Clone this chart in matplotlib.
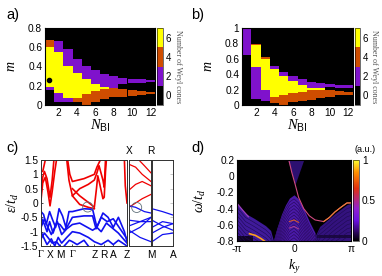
import numpy as np
import matplotlib
matplotlib.use('Agg')
import matplotlib.pyplot as plt
from matplotlib.colors import ListedColormap, BoundaryNorm, LinearSegmentedColormap, Normalize
from matplotlib.cm import ScalarMappable
from matplotlib.patches import Ellipse

plt.rcParams['font.family'] = ['Liberation Sans', 'DejaVu Sans']
plt.rcParams['axes.unicode_minus'] = False
plt.rcParams['mathtext.fontset'] = 'custom'
plt.rcParams['mathtext.it'] = 'Liberation Serif:italic'
plt.rcParams['mathtext.rm'] = 'Liberation Serif'
plt.rcParams['mathtext.sf'] = 'Liberation Sans'
plt.rcParams['mathtext.fallback'] = 'stix'

W, H = 382, 276
N_BI = np.arange(1, 13)
LAYER_COLORS = ['#000000', '#7f12cc', '#cf4d00', '#000000', '#ffff00', '#cf4d00', '#7f12cc']
CB_COLORS = ['#000000', '#7f12cc', '#cf4d00', '#ffff00']

# Panel a: top of each layer per column
a_black = [.155, .035, .035, .035, 0, .035, .06, .08, .085, .095, .105, .115]
a_purple = [.19, .12, .07, .035, 0, .035, .06, .08, .085, .095, .105, .115]
a_orange = [.19, .12, .07, .075, .115, .145, .165, .175, .17, .16, .15, .14]
a_gap = [.19, .12, .07, .075, .115, .145, .165, .175, .22, .225, .23, .235]
a_yellow = [.60, .55, .41, .33, .265, .215, .19, .18, .22, .225, .23, .235]
a_orange2 = [.68, .55, .41, .33, .265, .215, .19, .18, .22, .225, .23, .235]
a_purple2 = [.68, .66, .58, .48, .41, .36, .325, .30, .285, .275, .265, .255]
a_point = (0.93, 0.26)

# Panel b
b_black = [.65, .08, .05, .02, 0, .04, .05, .07, .09, .11, .125, .135]
b_purple = [1.0, .50, .20, .02, 0, .04, .05, .07, .09, .11, .125, .135]
b_orange = [1.0, .50, .20, .10, .13, .15, .17, .19, .20, .20, .185, .17]
b_gap = [1.0, .50, .20, .10, .13, .15, .17, .19, .20, .23, .22, .215]
b_yellow = [1.0, .775, .60, .47, .38, .31, .26, .225, .215, .23, .22, .215]
b_orange2 = [1.0, .79, .62, .47, .38, .31, .26, .225, .215, .23, .22, .215]
b_purple2 = [1.0, .79, .62, .51, .43, .38, .335, .30, .28, .27, .26, .255]

# Panel c: main segment, (k, energy) per band
c_ticks = [0, .108, .223, .365, .62, .735, .84, 1]
c_ticklabels = ['Γ', 'X', 'M', 'Γ', 'Z', 'R', 'A', 'Z']
c_red = [
    [(0, .1), (.02, .7), (.05, .9), (.08, .4), (.105, -.1), (.13, .4), (.16, 1.1), (.18, 1.5)],
    [(0, .3), (.02, .9), (.04, 1.1), (.07, .85), (.105, .2), (.13, .8), (.15, 1.5)],
    [(.02, 1.1), (.05, 1.5)],
    [(.30, 1.5), (.325, .8), (.365, .25), (.45, -.05), (.55, -.15), (.62, -.2)],
    [(.31, 1.5), (.335, 1.0), (.365, .75), (.5, .85), (.62, 1.0), (.65, 1.25), (.69, 1.5)],
    [(.365, .5), (.45, .25), (.56, 0), (.62, -.15), (.645, .5), (.66, .95), (.68, .7), (.72, .15), (.735, .2), (.75, 1.1), (.76, 1.5)],
    [(.365, .25), (.45, .5), (.55, .65), (.62, .8), (.65, 1.05), (.675, 1.3), (.72, .8), (.735, .55), (.75, 1.5)],
    [(.97, 1.5), (.98, .6), (1, 0)],
]
c_blue = [
    [(0, -.3), (.03, -.4), (.06, -.75), (.1, -.3), (.13, -.55), (.17, -.85), (.21, -.2), (.25, -.45), (.29, -.85), (.325, -.3), (.365, -.3), (.5, -.2), (.6, -.22), (.65, -.85), (.72, -.35), (.78, -.5), (.84, -.85), (.9, -.5), (.97, -1.0), (1, -1.35)],
    [(0, -.5), (.04, -.75), (.07, -1.0), (.1, -.65), (.14, -1.05), (.18, -.7), (.22, -.75), (.27, -.95), (.31, -.8), (.365, -.5), (.5, -.45), (.6, -.45), (.64, -.9), (.7, -.5), (.77, -.65), (.84, -.55), (.92, -.9), (1, -1.25)],
    [(0, -.85), (.04, -.55), (.08, -.85), (.12, -1.1), (.16, -.85), (.19, -.65), (.24, -1.1), (.3, -.9), (.365, -.75), (.45, -.7), (.6, -.95), (.65, -.85), (.7, -1.0), (.76, -.7), (.82, -.85), (.9, -1.05), (1, -1.4)],
    [(0, -1.0), (.03, -1.2), (.07, -1.45), (.12, -1.25), (.16, -1.5), (.2, -1.2), (.24, -1.4), (.3, -1.2), (.365, -1.0), (.45, -1.05), (.55, -1.2), (.62, -1.35), (.7, -1.45), (.78, -1.3), (.84, -1.45), (.9, -1.3), (1, -1.5)],
    [(0, -1.25), (.04, -1.05), (.08, -1.2), (.13, -1.4), (.18, -1.35), (.22, -1.5)],
    [(.27, -1.5), (.33, -1.3), (.365, -1.35), (.42, -1.45), (.5, -1.3), (.55, -1.5)],
]
# Panel c: middle and right segments
c2_red = [
    [(.45, 1.5), (.7, 1.3), (1, 1.05)],
    [(0, 1.35), (.3, 1.25), (.6, 1.0), (1, .75)],
    [(0, .45), (.3, .65), (.6, .75), (1, .6)],
    [(0, -.15), (.3, 0), (.6, .15), (1, .3)],
]
c2_blue = [
    [(0, -.1), (.3, -.15), (.7, -.3), (1, -.35)],
    [(0, -.6), (.5, -.65), (1, -.5)],
    [(0, -.8), (.5, -.65), (1, -.65)],
    [(0, -1.05), (.5, -.85), (1, -.5)],
    [(0, -.95), (.5, -1.2), (1, -1.35)],
]
c3_blue = [
    [(0, -.2), (.5, -.3), (1, -.42)],
    [(0, -.6), (.5, -.8), (1, -.95)],
    [(0, -.85), (.5, -.65), (1, -.72)],
    [(0, -1.35), (.5, -1.1), (1, -1.05)],
    [(0, -1.05), (.5, -.85), (1, -.72)],
]

# Panel d: k_y in units of pi, energy omega/t_d
d_left_k = [-1, -.85, -.7, -.5, -.41, -.36]
d_left_w = [-.335, -.46, -.52, -.61, -.67, -.8]
d_dome_k = [-.356, -.3, -.22, -.15, -.08, 0, .08, .17, .27, .37]
d_dome_w = [-.78, -.64, -.47, -.355, -.27, -.23, -.28, -.40, -.56, -.70]
d_fan_k = [.33, .45, .52, .72, .93, 1]
d_fan_w = [-.8, -.62, -.58, -.46, -.35, -.335]
d_band_k = [-.09, -.04, .02, .08, .17, .27, .37, .52, .62, .72, .83, .93, 1]
d_band_w = [.2, .05, -.1, -.26, -.4, -.49, -.54, -.56, -.51, -.44, -.38, -.33, -.33]
d_cone_k = [-.11, .02, .17]
d_cone_w = [.2, -.1, .2]
d_fringe_drop = [.05, .09, .13, .17, .21, .25, .29, .33, .37, .41, .45, .49, .53]
d_fan_drop = [.05, .1, .15, .2, .25, .3, .35, .4]
d_arc_k = [-.08, 0, .08]
d_arc_w = [-.56, -.54, -.57]
d_arc2_w = [-.64, -.62, -.65]
d_hot_k = [-.78, -.68, -.58, -.5]
d_hot_w = [-.71, -.73, -.77, -.81]
d_edge_k = [-1, -.9, -.8]
d_edge_w = [-.335, -.42, -.5]


def axpx(x0, y0, x1, y1):
    return fig.add_axes([x0 / W, 1 - y1 / H, (x1 - x0) / W, (y1 - y0) / H])


def style(ax, size=7.3):
    ax.tick_params(labelsize=size, length=1.5, width=.5, pad=2, direction='in')


def band(ax, pts, color, lw=1.2):
    xs, ys = zip(*pts)
    ax.plot(xs, ys, color=color, lw=lw, solid_joinstyle='round')


def stack_panel(ax, layers, ymax, yticks, yticklabels):
    bottom = np.zeros(12)
    for top, col in zip(layers, LAYER_COLORS):
        top = np.array(top, float)
        ax.bar(N_BI, top - bottom, 1.0, bottom=bottom, color=col, linewidth=0, antialiased=False)
        bottom = top
    ax.set_facecolor('black')
    ax.set_xlim(.5, 12.5)
    ax.set_ylim(0, ymax)
    ax.set_xticks(range(2, 13, 2))
    ax.set_yticks(yticks)
    ax.set_yticklabels(yticklabels)
    style(ax)
    ax.tick_params(length=0)
    ax.set_xlabel(r'$N_{\mathsf{BI}}$', fontsize=10.5, labelpad=0)
    ax.set_ylabel(r'$m$', fontsize=10, labelpad=7)


def cbar(x0, y0, x1, y1):
    cax = axpx(x0, y0, x1, y1)
    norm = BoundaryNorm([-1, 1, 3, 5, 7], 4)
    cb = fig.colorbar(ScalarMappable(norm=norm, cmap=ListedColormap(CB_COLORS)), cax=cax,
                      ticks=[0, 2, 4, 6], spacing='proportional')
    cb.ax.tick_params(labelsize=7, length=0, pad=2)
    cb.outline.set_linewidth(.4)
    cb.minorticks_off()
    fig.text((x1 + 14.5) / W, 1 - (y0 + y1) / 2 / H, 'Number of Weyl cones', rotation=270,
             family=['Liberation Serif'], fontsize=5.8, color='#555555', ha='center', va='center')


fig = plt.figure(figsize=(W / 100, H / 100), dpi=100)

# a
axa = axpx(45, 28, 155, 105)
stack_panel(axa, [a_black, a_purple, a_orange, a_gap, a_yellow, a_orange2, a_purple2], .8,
            [0, .2, .4, .6, .8], ['0', '0.2', '0.4', '0.6', '0.8'])
axa.plot(*a_point, 'o', color='black', ms=3)
cbar(157, 28, 163, 105)

# b
axb = axpx(242, 28, 353, 105)
stack_panel(axb, [b_black, b_purple, b_orange, b_gap, b_yellow, b_orange2, b_purple2], 1,
            [0, .2, .4, .6, .8, 1], ['0', '0.2', '0.4', '0.6', '0.8', '1'])
cbar(355, 28, 360, 105)

# c
axc1 = axpx(41, 160, 127, 246)
axc2 = axpx(129, 160, 151, 246)
axc3 = axpx(152, 160, 173, 246)
for b in c_red:
    band(axc1, b, '#f00000')
for b in c_blue:
    band(axc1, b, '#1010f0')
for b in c2_red:
    band(axc2, b, '#f00000', .9)
for b in c2_blue:
    band(axc2, b, '#1010f0', .9)
for b in c3_blue:
    band(axc3, b, '#1010f0', .9)
for ax in (axc1, axc2, axc3):
    ax.set_ylim(-1.5, 1.5)
    style(ax)
    for s in ax.spines.values():
        s.set_linewidth(.7)
        s.set_color('#303030')
axc1.set_xlim(0, 1)
axc1.set_xticks(c_ticks)
axc1.set_xticklabels(c_ticklabels)
axc1.set_yticks(np.arange(-1.5, 1.6, .5))
axc1.set_yticklabels(['-1.5', '-1', '-0.5', '0', '0.5', '1', '1.5'])
axc1.tick_params(axis='x', pad=3)
axc1.set_ylabel(r'$\epsilon/t_d$', fontsize=10, labelpad=0)
for t in axc1.get_xticklabels()[:1] + axc1.get_xticklabels()[3:4]:
    t.set_fontfamily('Liberation Serif')
axc2.set_xlim(0, 1)
axc2.set_xticks([1])
axc2.set_xticklabels(['M'])
axc2.tick_params(axis='x', pad=3)
axc2.set_yticks([])
axc2.text(0, 1.05, 'X', transform=axc2.transAxes, fontsize=7.3, ha='center', va='bottom')
axc2.text(1, 1.05, 'R', transform=axc2.transAxes, fontsize=7.3, ha='center', va='bottom')
axc3.set_xlim(0, 1)
axc3.set_xticks([1])
axc3.set_xticklabels(['A'])
axc3.tick_params(axis='x', pad=3)
axc3.yaxis.tick_right()
axc3.set_yticks(axc1.get_yticks())
axc3.set_yticklabels([])
axc3.tick_params(axis='y', color='#b0b0b0', length=2)
for cx, cy in [(87.7, 207), (136.7, 207.5)]:
    fig.add_artist(Ellipse((cx / W, 1 - cy / H), 10 / W, 10 / H, fill=False,
                           edgecolor='#60707a', lw=.6, transform=fig.transFigure))

# d
axd = axpx(237, 160, 351, 241)
axd.set_facecolor('black')
axd.fill_between(d_left_k, -.8, d_left_w, color='#3f1a9a', lw=0)
axd.fill_between(d_fan_k, -.8, d_fan_w, color='#33127e', lw=0)
axd.fill_between(d_dome_k, -.8, d_dome_w, color='#4a1aa8', lw=0)
axd.fill_between(d_cone_k, d_cone_w, .2, color='#2c1070', lw=0)
for drop in d_fan_drop:
    axd.plot(d_fan_k, np.array(d_fan_w) - drop, color='#1e0a50', lw=.4)
    axd.plot(d_left_k, np.array(d_left_w) - drop, color='#1e0a50', lw=.4)
for drop in d_fringe_drop:
    axd.plot(d_dome_k, np.array(d_dome_w) - drop, color='#2a0a60', lw=.5)
axd.plot(d_arc_k, d_arc_w, color='#e06020', lw=.7)
axd.plot(d_arc_k, d_arc2_w, color='#b04090', lw=.7)
axd.fill_between([-1, -.72], -.8, -.74, color='#100425', lw=0)
axd.fill_between([.4, 1], -.76, -.72, color='#1a0840', lw=0)
axd.plot(d_band_k, d_band_w, color='#d04a80', lw=.8)
axd.plot(d_hot_k, d_hot_w, color='#ffa020', lw=1.2)
axd.plot(d_edge_k, d_edge_w, color='#a040c0', lw=.9)
axd.plot(d_band_k[7:], d_band_w[7:], color='#f08030', lw=.8)
axd.set_xlim(-1, 1)
axd.set_ylim(-.8, .2)
axd.set_xticks([-1, 0, 1])
axd.set_xticklabels(['-π', '0', 'π'])
axd.set_yticks([-.8, -.6, -.4, -.2, 0, .2])
axd.set_yticklabels(['-0.8', '-0.6', '-0.4', '-0.2', '0', '0.2'])
style(axd)
axd.tick_params(length=0)
axd.set_xlabel(r'$k_y$', fontsize=10, labelpad=3)
axd.set_ylabel(r'$\omega/t_d$', fontsize=10, labelpad=6)
axdc = axpx(353, 160, 359, 241)
cm = LinearSegmentedColormap.from_list('h', [(0, '#000000'), (.25, '#6a10e0'), (.4, '#9020d0'),
                                             (.65, '#e03010'), (.85, '#ff9000'), (1, '#ffff30')])
cb = fig.colorbar(ScalarMappable(norm=Normalize(0, 1), cmap=cm), cax=axdc, ticks=[0, .5, 1])
cb.ax.set_yticklabels(['0', '0.5', '1'])
cb.ax.tick_params(labelsize=7.3, length=0, pad=2)
cb.outline.set_linewidth(.4)
fig.text(365 / W, 1 - 149 / H, '(a.u.)', fontsize=6.5, ha='center', va='center')

for txt, x, y in [('a)', 6, 15), ('b)', 191, 15), ('c)', 6, 148), ('d)', 191, 148)]:
    fig.text(x / W, 1 - y / H, txt, fontsize=10.5, ha='left', va='center')

fig.savefig('out.png', dpi=100)
